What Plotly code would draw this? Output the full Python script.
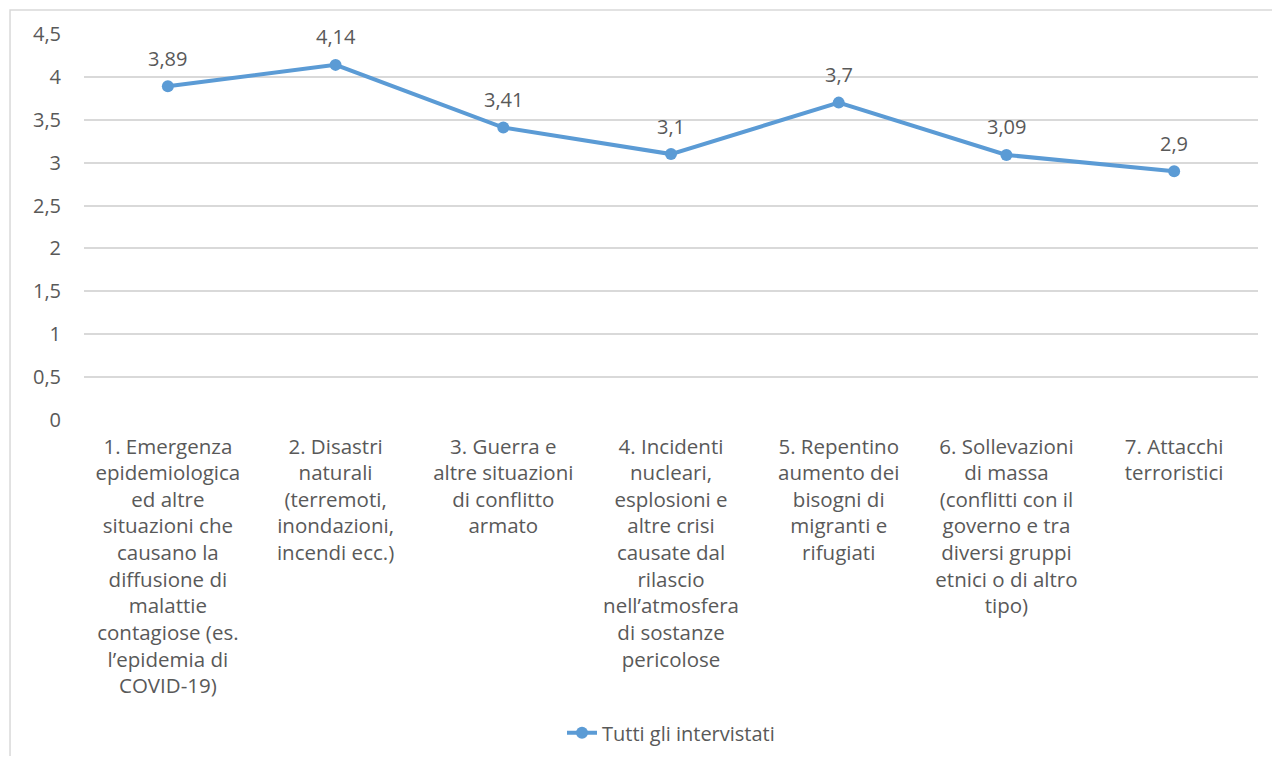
import plotly.graph_objects as go

categories = [
    "1. Emergenza<br>epidemiologica<br>ed altre<br>situazioni che<br>causano la<br>diffusione di<br>malattie<br>contagiose (es.<br>l’epidemia di<br>COVID-19)",
    "2. Disastri<br>naturali<br>(terremoti,<br>inondazioni,<br>incendi ecc.)",
    "3. Guerra e<br>altre situazioni<br>di conflitto<br>armato",
    "4. Incidenti<br>nucleari,<br>esplosioni e<br>altre crisi<br>causate dal<br>rilascio<br>nell’atmosfera<br>di sostanze<br>pericolose",
    "5. Repentino<br>aumento dei<br>bisogni di<br>migranti e<br>rifugiati",
    "6. Sollevazioni<br>di massa<br>(conflitti con il<br>governo e tra<br>diversi gruppi<br>etnici o di altro<br>tipo)",
    "7. Attacchi<br>terroristici",
]
values = [3.89, 4.14, 3.41, 3.1, 3.7, 3.09, 2.9]
series_name = "Tutti gli intervistati"
y_ticks = [0, 0.5, 1, 1.5, 2, 2.5, 3, 3.5, 4, 4.5]

labels = [f"{v:g}".replace(".", ",") for v in values]
tick_text = [f"{t:g}".replace(".", ",") for t in y_ticks]

FONT = "Open Sans, Noto Sans, sans-serif"
GREY = "#595959"
BLUE = "#5B9BD5"
FS = 20

fig = go.Figure()
fig.add_trace(go.Scatter(
    x=categories, y=values, name=series_name,
    mode="lines+markers",
    line=dict(color=BLUE, width=4),
    marker=dict(color=BLUE, size=12),
))

annotations = [
    dict(x=c, y=v, text=t, showarrow=False, yshift=28,
         font=dict(family=FONT, size=FS, color=GREY))
    for c, v, t in zip(categories, values, labels)
]

fig.update_layout(
    width=1264, height=748,
    margin=dict(l=76, r=14, t=26, b=336),
    paper_bgcolor="white", plot_bgcolor="white",
    font=dict(family=FONT, size=FS, color=GREY),
    showlegend=True,
    legend=dict(orientation="h", x=0.5, xanchor="center",
                yref="container", y=0.031, yanchor="middle",
                font=dict(family=FONT, size=FS, color=GREY)),
    xaxis=dict(range=[-0.5, len(categories) - 0.5], automargin=False,
               showgrid=False, showline=False, zeroline=False,
               ticklabelstandoff=12,
               tickfont=dict(family=FONT, size=20.5, color=GREY), ticks=""),
    yaxis=dict(range=[0, 4.5], tickvals=y_ticks, ticktext=tick_text, automargin=False,
               showgrid=True, gridcolor="#D9D9D9", gridwidth=1.5,
               zeroline=False, showline=False, ticks="",
               ticklabelstandoff=22,
               tickfont=dict(family=FONT, size=FS, color=GREY)),
    annotations=annotations,
    shapes=[dict(type="rect", xref="paper", yref="paper",
                 x0=-0.063, x1=1.05, y0=-1.0, y1=1.062,
                 line=dict(color="#D9D9D9", width=1.5), fillcolor="rgba(0,0,0,0)",
                 layer="below")],
)

fig.write_html("out.html")
